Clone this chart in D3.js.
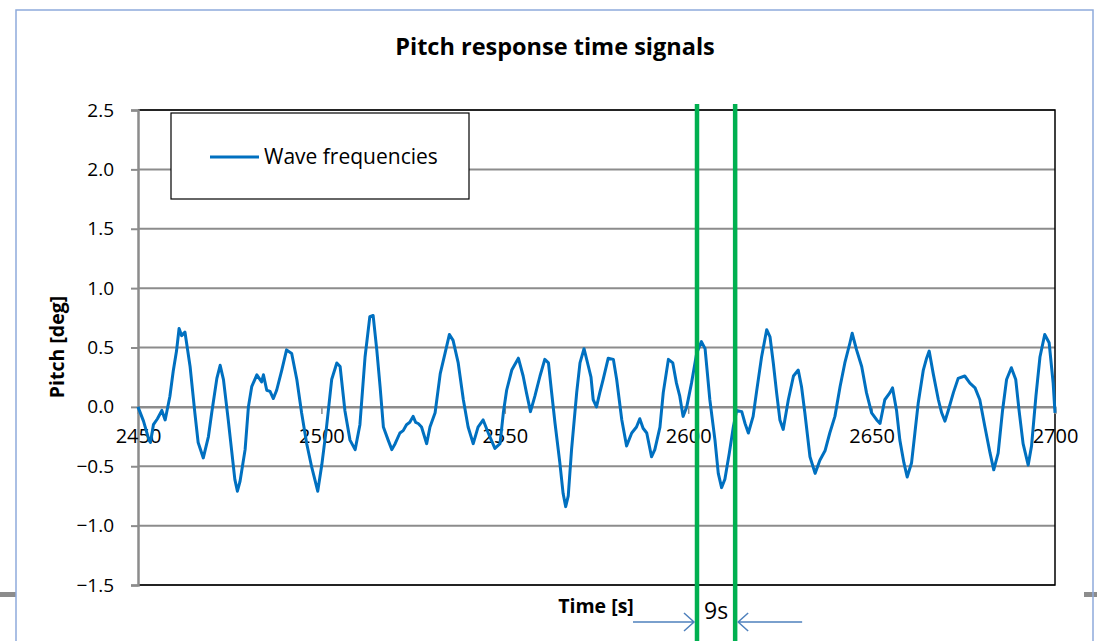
<!DOCTYPE html>
<html>
<head>
<meta charset="utf-8">
<script src="https://cdn.jsdelivr.net/npm/d3@7"></script>
<style>
  html, body { margin:0; padding:0; background:#fff; }
  svg { display:block; font-family: "Open Sans", Lato, sans-serif; }
</style>
</head>
<body>
<svg id="chart" width="1097" height="641"></svg>
<script>
// time [s] and pitch [deg]
const times=[
  2450.0,2451.5,2453.0,2453.4,2454.2,2455.3,2456.5,2457.4,2458.7,2459.6,
  2460.5,2461.2,2461.9,2462.8,2464.2,2465.5,2466.4,2467.8,2469.2,2470.1,
  2471.5,2472.4,2473.3,2474.6,2475.5,2476.4,2477.1,2477.8,2479.2,2480.1,
  2481.0,2482.4,2483.7,2484.2,2485.1,2486.0,2486.9,2487.8,2489.2,2490.5,
  2491.9,2493.3,2494.6,2496.0,2497.3,2498.2,2499.0,2500.1,2501.4,2502.8,
  2504.2,2505.1,2506.4,2507.8,2509.2,2510.5,2511.9,2513.2,2514.1,2515.1,
  2516.0,2516.9,2518.2,2519.2,2520.1,2521.4,2522.3,2523.2,2524.1,2525.0,
  2525.7,2526.4,2527.3,2528.7,2529.6,2531.0,2532.4,2533.7,2534.9,2535.9,
  2537.3,2538.7,2540.0,2541.4,2542.7,2544.1,2545.5,2547.3,2548.7,2549.6,
  2550.5,2551.9,2553.7,2555.0,2555.9,2557.0,2558.2,2559.6,2560.9,2561.9,
  2562.7,2563.7,2565.0,2565.9,2566.6,2567.3,2568.2,2569.6,2570.5,2571.6,
  2572.8,2573.5,2574.1,2575.0,2575.9,2576.8,2578.2,2579.6,2580.5,2581.9,
  2583.2,2584.6,2585.9,2586.8,2587.7,2588.7,2590.0,2590.9,2592.3,2593.2,
  2594.6,2595.8,2596.8,2597.7,2598.6,2599.6,2600.9,2602.3,2603.6,2604.6,
  2605.9,2607.3,2608.2,2609.1,2610.0,2611.2,2612.3,2613.2,2614.6,2615.5,
  2616.4,2617.7,2618.6,2620.0,2621.4,2622.3,2623.2,2624.1,2625.0,2625.9,
  2627.3,2628.7,2630.0,2630.9,2631.8,2633.2,2634.6,2635.9,2637.3,2638.6,
  2640.0,2641.4,2642.7,2644.1,2644.7,2645.9,2647.3,2648.6,2650.0,2651.4,
  2652.3,2653.6,2655.0,2655.7,2656.8,2657.7,2658.8,2659.7,2660.9,2661.8,
  2662.7,2664.1,2665.0,2665.7,2666.8,2668.2,2669.1,2670.0,2670.9,2672.3,
  2673.6,2675.4,2676.8,2678.2,2679.5,2680.9,2682.3,2683.3,2684.5,2685.7,
  2686.8,2688.1,2689.3,2690.2,2691.3,2692.7,2693.6,2694.8,2695.9,2697.2,
  2698.4,2699.5,2700.0
];
const pitch=[
  0.00,-0.12,-0.28,-0.30,-0.15,-0.10,-0.03,-0.11,0.09,0.30,
  0.47,0.66,0.60,0.63,0.34,-0.05,-0.30,-0.43,-0.25,-0.05,
  0.24,0.35,0.23,-0.11,-0.36,-0.61,-0.71,-0.63,-0.36,0.00,
  0.17,0.27,0.21,0.27,0.14,0.13,0.07,0.14,0.31,0.48,
  0.45,0.23,-0.05,-0.31,-0.50,-0.61,-0.71,-0.49,-0.17,0.23,
  0.37,0.34,-0.03,-0.28,-0.36,-0.15,0.42,0.76,0.77,0.48,
  0.17,-0.17,-0.28,-0.36,-0.31,-0.22,-0.20,-0.15,-0.13,-0.08,
  -0.13,-0.14,-0.17,-0.31,-0.17,-0.05,0.28,0.45,0.61,0.56,
  0.37,0.06,-0.17,-0.31,-0.17,-0.11,-0.22,-0.35,-0.31,-0.05,
  0.14,0.31,0.41,0.26,0.12,-0.04,0.09,0.26,0.40,0.37,
  0.14,-0.14,-0.47,-0.73,-0.84,-0.75,-0.36,0.12,0.37,0.49,
  0.34,0.25,0.06,0.00,0.12,0.23,0.41,0.40,0.23,-0.11,
  -0.33,-0.22,-0.17,-0.10,-0.18,-0.22,-0.42,-0.36,-0.17,0.12,
  0.40,0.37,0.20,0.09,-0.08,0.00,0.20,0.45,0.55,0.49,
  0.06,-0.28,-0.56,-0.68,-0.61,-0.39,-0.17,-0.03,-0.04,-0.14,
  -0.22,-0.08,0.12,0.42,0.65,0.59,0.37,0.12,-0.11,-0.19,
  0.06,0.26,0.31,0.17,-0.05,-0.42,-0.56,-0.45,-0.37,-0.22,
  -0.08,0.17,0.37,0.54,0.62,0.48,0.34,0.12,-0.05,-0.11,
  -0.14,0.06,0.12,0.16,-0.03,-0.28,-0.47,-0.59,-0.47,-0.22,
  0.03,0.31,0.41,0.47,0.28,0.06,-0.05,-0.12,-0.03,0.12,
  0.24,0.26,0.20,0.16,0.06,-0.17,-0.39,-0.53,-0.39,-0.03,
  0.23,0.33,0.23,-0.03,-0.31,-0.49,-0.33,0.09,0.42,0.61,
  0.54,0.20,-0.05
];
const xTicks=[2450,2500,2550,2600,2650,2700];
const yTicks=[-1.5,-1.0,-0.5,0.0,0.5,1.0,1.5,2.0,2.5];
const markerTimes=[2602.4,2612.8]; // the two green lines
const seriesName="Wave frequencies";

const svg=d3.select("#chart");
const plotL=138, plotR=1055, plotT=110, plotB=585;

const x=d3.scaleLinear().domain([2450,2700]).range([plotL,plotR]);
const y=d3.scaleLinear().domain([-1.5,2.5]).range([plotB,plotT]);

// slide frame and the little grey bars poking out of it
svg.append("rect").attr("x",0).attr("y",592).attr("width",16).attr("height",5).attr("fill","#8c8c8c");
svg.append("rect").attr("x",1084).attr("y",592).attr("width",13).attr("height",5).attr("fill","#8c8c8c");
svg.append("path")
    .attr("d","M16,641 V10 H1093 V641")
    .attr("fill","none").attr("stroke","#8eaadb").attr("stroke-width",1.5);

// title
svg.append("text")
    .attr("x",555).attr("y",55)
    .attr("text-anchor","middle")
    .attr("font-size",23.5).attr("font-weight","bold")
    .text("Pitch response time signals");

// horizontal grid
svg.append("g")
    .selectAll("line")
    .data(yTicks)
    .join("line")
    .attr("x1",plotL).attr("x2",plotR)
    .attr("y1",d=>y(d)).attr("y2",d=>y(d))
    .attr("stroke","#8c8c8c").attr("stroke-width",2);

// plot area border (top, right, bottom)
svg.append("path")
    .attr("d",`M${plotL},${plotT} H${plotR} V${plotB} H${plotL}`)
    .attr("fill","none").attr("stroke","#000").attr("stroke-width",1.5);

// y axis
const yAxis=svg.append("g")
    .attr("transform",`translate(${plotL},0)`)
    .call(d3.axisLeft(y).tickValues(yTicks).tickFormat(d3.format(".1f")).tickSize(7).tickPadding(17));
yAxis.select(".domain").attr("stroke","#8c8c8c").attr("stroke-width",2.5);
yAxis.selectAll(".tick line").attr("stroke","#8c8c8c").attr("stroke-width",2);
yAxis.selectAll("text").attr("font-size",19).attr("font-family","'Open Sans', sans-serif").attr("fill","#000");

// x axis crossing at 0
const xAxis=svg.append("g")
    .attr("transform",`translate(0,${y(0)})`)
    .call(d3.axisBottom(x).tickValues(xTicks).tickFormat(d3.format("d")).tickSize(7).tickPadding(15));
xAxis.select(".domain").attr("stroke","#8c8c8c").attr("stroke-width",2);
xAxis.selectAll(".tick line").attr("stroke","#8c8c8c").attr("stroke-width",1.5);
xAxis.selectAll("text").attr("font-size",20).attr("font-family","'Open Sans', sans-serif").attr("fill","#000");

// axis titles
svg.append("text")
    .attr("transform","translate(64,347) rotate(-90)")
    .attr("text-anchor","middle")
    .attr("font-size",19.5).attr("font-weight","bold")
    .text("Pitch [deg]");
svg.append("text")
    .attr("x",596).attr("y",613)
    .attr("text-anchor","middle")
    .attr("font-size",19.5).attr("font-weight","bold")
    .text("Time [s]");

// series
const series=times.map((t,i)=>({ t, v: pitch[i] }));
svg.append("path")
    .datum(series)
    .attr("fill","none")
    .attr("stroke","#0070c0").attr("stroke-width",3)
    .attr("stroke-linejoin","round")
    .attr("d",d3.line().x(d=>x(d.t)).y(d=>y(d.v)));

// legend
svg.append("rect")
    .attr("x",171).attr("y",113).attr("width",298).attr("height",86)
    .attr("fill","#fff").attr("stroke","#000").attr("stroke-width",1.2);
svg.append("line")
    .attr("x1",210).attr("x2",259).attr("y1",157).attr("y2",157)
    .attr("stroke","#0070c0").attr("stroke-width",3);
svg.append("text")
    .attr("x",264).attr("y",164)
    .attr("font-size",21)
    .text(seriesName);

// green marker lines
svg.append("g")
    .selectAll("line")
    .data(markerTimes)
    .join("line")
    .attr("x1",d=>x(d)).attr("x2",d=>x(d))
    .attr("y1",104).attr("y2",641)
    .attr("stroke","#00b050").attr("stroke-width",4.5);

// 9s dimension arrows
const arrowY=622;
const arrowColor="#4f81bd";
const leftTip=x(markerTimes[0])-3, rightTip=x(markerTimes[1])+3;
const arrows=svg.append("g").attr("stroke",arrowColor).attr("stroke-width",1.5).attr("fill","none");
arrows.append("path").attr("d",`M${leftTip-61},${arrowY} H${leftTip} M${leftTip-10},${arrowY-9} L${leftTip},${arrowY} L${leftTip-10},${arrowY+9}`);
arrows.append("path").attr("d",`M${rightTip+64},${arrowY} H${rightTip} M${rightTip+10},${arrowY-9} L${rightTip},${arrowY} L${rightTip+10},${arrowY+9}`);
svg.append("text")
    .attr("x",(leftTip+rightTip)/2).attr("y",619)
    .attr("text-anchor","middle")
    .attr("font-size",23)
    .text("9s");
</script>
</body>
</html>
